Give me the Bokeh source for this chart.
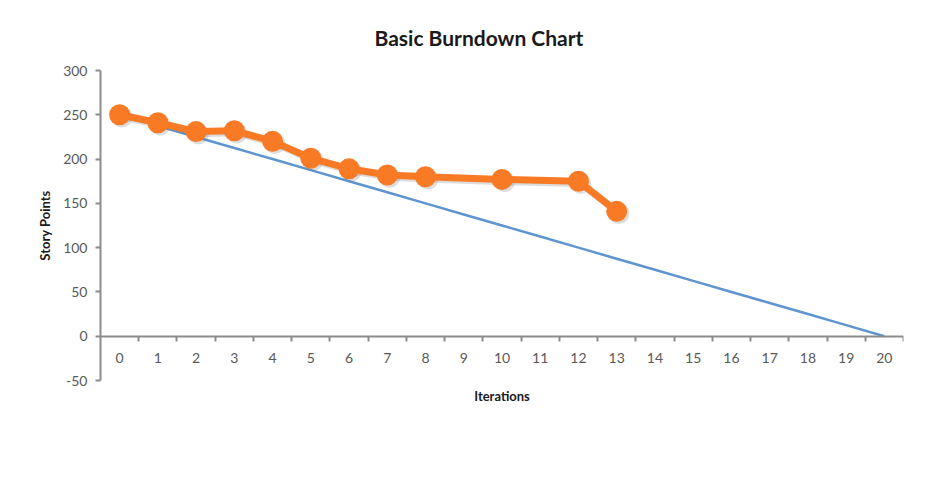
from bokeh.plotting import figure
from bokeh.embed import file_html
from bokeh.resources import INLINE
from bokeh.models import (LinearAxis, FixedTicker, Range1d, Title, ColumnDataSource)
from bokeh.transform import dodge

# ---- data ----
iterations = list(range(0, 21))
ideal_points = [250 - 12.5 * i for i in iterations]
actual_iter = [0, 1, 2, 3, 4, 5, 6, 7, 8, 10, 12, 13]
actual_points = [250, 241, 231, 232, 220, 201, 189, 182, 180, 177, 175, 141]
y_ticks = [-50, 0, 50, 100, 150, 200, 250, 300]
y_tick_labels = ["-50", "0", "50", "100", "150", "200", "250", "300"]
x_tick_labels = [str(i) for i in iterations]

FONT = "Lato"
GREY = "#595959"
AXIS = "#8c8c8c"

p = figure(width=928, height=470, output_backend="svg", toolbar_location=None,
           x_range=Range1d(-0.5, 20.5), y_range=Range1d(-50, 300),
           x_axis_type=None, y_axis_type=None,
           min_border_left=100, min_border_right=25, min_border_top=70, min_border_bottom=90)
p.outline_line_color = None
p.background_fill_color = "white"
p.border_fill_color = "white"
p.xgrid.visible = False
p.ygrid.visible = False

p.title.text = "Basic Burndown Chart"
p.title.align = "left"
p.title.text_font = FONT
p.title.text_font_size = "21px"
p.title.text_font_style = "bold"
p.title.text_color = "#1a1a1a"
p.title.standoff = 41
p.title.offset = 274

# y axis
yax = LinearAxis(ticker=FixedTicker(ticks=y_ticks))
yax.axis_line_color = AXIS
yax.axis_line_width = 2
yax.major_tick_line_color = AXIS
yax.major_tick_line_width = 2
yax.major_tick_out = 5
yax.major_tick_in = 0
yax.minor_tick_line_color = None
yax.major_label_overrides = {t: s for t, s in zip(y_ticks, y_tick_labels)}
yax.major_label_text_font = FONT
yax.major_label_text_font_size = "14px"
yax.major_label_text_color = GREY
yax.major_label_standoff = 8
yax.axis_label = "Story Points"
yax.axis_label_text_font = FONT
yax.axis_label_text_font_size = "13px"
yax.axis_label_text_font_style = "bold"
yax.axis_label_text_color = "#1a1a1a"
yax.axis_label_standoff = 7
p.add_layout(yax, "left")

# x axis line + ticks between categories
xax_ticks = LinearAxis(ticker=FixedTicker(ticks=[i + 0.5 for i in iterations]), fixed_location=0)
xax_ticks.axis_line_color = AXIS
xax_ticks.axis_line_width = 2
xax_ticks.major_tick_line_color = AXIS
xax_ticks.major_tick_line_width = 2
xax_ticks.major_tick_out = 5
xax_ticks.major_tick_in = 0
xax_ticks.minor_tick_line_color = None
xax_ticks.major_label_text_alpha = 0
p.add_layout(xax_ticks, "below")

# x axis category labels
xax_lab = LinearAxis(ticker=FixedTicker(ticks=iterations), fixed_location=0)
xax_lab.axis_line_color = None
xax_lab.major_tick_line_color = None
xax_lab.minor_tick_line_color = None
xax_lab.major_label_overrides = {i: s for i, s in zip(iterations, x_tick_labels)}
xax_lab.major_label_text_font = FONT
xax_lab.major_label_text_font_size = "14px"
xax_lab.major_label_text_color = GREY
xax_lab.major_label_standoff = 11
p.add_layout(xax_lab, "below")

p.add_layout(Title(text="Iterations", align="center", text_font=FONT, text_font_size="13px",
                   text_font_style="bold", text_color="#1a1a1a"), "below")

ideal_src = ColumnDataSource(dict(x=iterations, y=ideal_points))
act_src = ColumnDataSource(dict(x=actual_iter, y=actual_points))

p.line("x", "y", source=ideal_src, line_color="#5f95cf", line_width=2.5)

# soft shadow
p.line(dodge("x", 0.06, range=p.x_range), dodge("y", -2.5, range=p.y_range), source=act_src,
       line_color="#777777", line_alpha=0.25, line_width=7)
p.scatter(dodge("x", 0.06, range=p.x_range), dodge("y", -2.5, range=p.y_range), source=act_src,
          size=21, fill_color="#777777", fill_alpha=0.25, line_color=None)

p.line("x", "y", source=act_src, line_color="#f87a25", line_width=7)
p.scatter("x", "y", source=act_src, size=21, fill_color="#f87a25", line_color=None)

open("out.html", "w").write(file_html(p, INLINE))
